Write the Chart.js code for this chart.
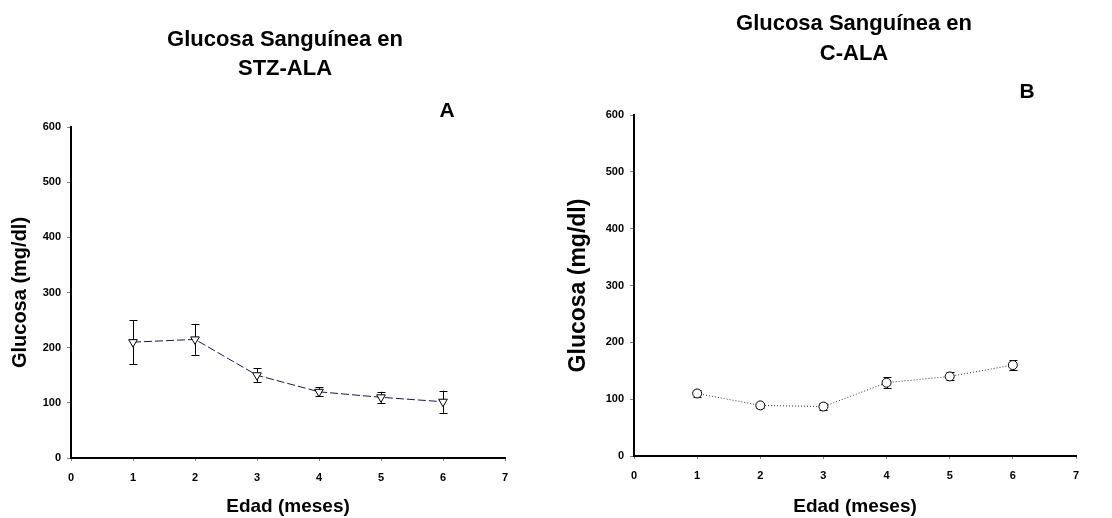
<!DOCTYPE html>
<html>
<head>
<meta charset="utf-8">
<script src="https://cdn.jsdelivr.net/npm/chart.js@4"></script>
<style>
  body { margin: 0; background: #fff; }
  canvas { position: absolute; top: 0; }
  #chartA { left: 0; }
  #chartB { left: 556px; }
</style>
</head>
<body>
<canvas id="chartA" width="556" height="518"></canvas>
<canvas id="chartB" width="556" height="518"></canvas>
<script>
const months = [1, 2, 3, 4, 5, 6];
const stzMean = [210, 215, 150, 120, 110, 102];
const stzErr = [40, 28, 13, 8, 10, 20];
const calaMean = [110, 89, 87, 129, 140, 160];
const calaErr = [7, 5, 6, 10, 7, 9];

const FONT = "'Liberation Sans', Arial, sans-serif";

// error bars drawn through the chart scales
const errorBars = {
  id: 'errorBars',
  beforeDatasetsDraw(chart, args, opts) {
    const {ctx, scales: {x, y}} = chart;
    const ds = chart.data.datasets[0];
    ctx.save();
    ctx.strokeStyle = '#000';
    ctx.lineWidth = 1;
    ds.data.forEach((p, i) => {
      const px = Math.round(x.getPixelForValue(p.x)) + 0.5;
      const top = y.getPixelForValue(p.y + opts.err[i]);
      const bot = y.getPixelForValue(p.y - opts.err[i]);
      ctx.beginPath();
      ctx.moveTo(px, top); ctx.lineTo(px, bot);
      ctx.moveTo(px - 4, Math.round(top) + 0.5); ctx.lineTo(px + 4, Math.round(top) + 0.5);
      ctx.moveTo(px - 4, Math.round(bot) + 0.5); ctx.lineTo(px + 4, Math.round(bot) + 0.5);
      ctx.stroke();
    });
    ctx.restore();
  }
};

// heading lines and panel letter
const headings = {
  id: 'headings',
  afterDraw(chart, args, opts) {
    const ctx = chart.ctx;
    ctx.save();
    ctx.fillStyle = '#000';
    ctx.textAlign = 'center';
    ctx.textBaseline = 'middle';
    ctx.font = 'bold 22px ' + FONT;
    opts.lines.forEach((t, i) => ctx.fillText(t, opts.cx, opts.y0 + i * opts.dy));
    ctx.font = 'bold 21px ' + FONT;
    ctx.fillText(opts.letter, opts.lx, opts.ly);
    ctx.restore();
  }
};

function makeChart(id, mean, err, cfg) {
  return new Chart(document.getElementById(id), {
    type: 'line',
    data: {
      datasets: [{
        data: months.map((m, i) => ({x: m, y: mean[i]})),
        borderColor: cfg.lineColor,
        borderWidth: 1,
        borderDash: cfg.dash,
        pointStyle: cfg.pointStyle,
        rotation: cfg.rotation,
        pointRadius: cfg.radius,
        pointBackgroundColor: '#fff',
        pointBorderColor: '#000',
        pointBorderWidth: 1,
        tension: 0
      }]
    },
    options: {
      responsive: false,
      animation: false,
      devicePixelRatio: 1,
      layout: {padding: {left: 0, right: cfg.padRight, top: cfg.padTop, bottom: 0}},
      plugins: {
        legend: {display: false},
        tooltip: {enabled: false},
        errorBars: {err: err},
        headings: cfg.headings
      },
      scales: {
        x: {
          type: 'linear', min: 0, max: 7,
          ticks: {stepSize: 1, color: '#000', font: {family: FONT, size: 11, weight: 'bold'}, padding: 10},
          grid: {drawOnChartArea: false, color: '#808080', tickLength: 3},
          border: {color: '#000', width: 2},
          title: {display: true, text: 'Edad (meses)', color: '#000', padding: {top: 0, bottom: 0},
                  font: {family: FONT, size: 19, weight: 'bold'}},
          afterFit: s => { s.height = cfg.xHeight; }
        },
        y: {
          min: 0, max: 600,
          ticks: {stepSize: 100, color: '#000', font: {family: FONT, size: 11, weight: 'bold'}, padding: 6},
          grid: {drawOnChartArea: false, color: '#808080', tickLength: 4},
          border: {color: '#000', width: 2},
          title: {display: true, text: 'Glucosa (mg/dl)', color: '#000', padding: {top: cfg.yTitlePad, bottom: 0},
                  font: {family: FONT, size: cfg.yTitleSize, weight: 'bold'}},
          afterFit: s => { s.width = cfg.yWidth; }
        }
      }
    },
    plugins: [errorBars, headings]
  });
}

makeChart('chartA', stzMean, stzErr, {
  lineColor: '#1a1a40', dash: [8, 3], pointStyle: 'triangle', rotation: 180, radius: 5,
  padRight: 51, padTop: 127, xHeight: 60, yWidth: 71, yTitlePad: 8, yTitleSize: 20,
  headings: {lines: ['Glucosa Sanguínea en', 'STZ-ALA'], cx: 285, y0: 40, dy: 29, letter: 'A', lx: 447, ly: 111}
});

makeChart('chartB', calaMean, calaErr, {
  lineColor: '#333', dash: [1, 2], pointStyle: 'circle', rotation: 0, radius: 4.5,
  padRight: 36, padTop: 115, xHeight: 62, yWidth: 78, yTitlePad: 9, yTitleSize: 23,
  headings: {lines: ['Glucosa Sanguínea en', 'C-ALA'], cx: 298, y0: 24, dy: 30, letter: 'B', lx: 471, ly: 92}
});
</script>
</body>
</html>
